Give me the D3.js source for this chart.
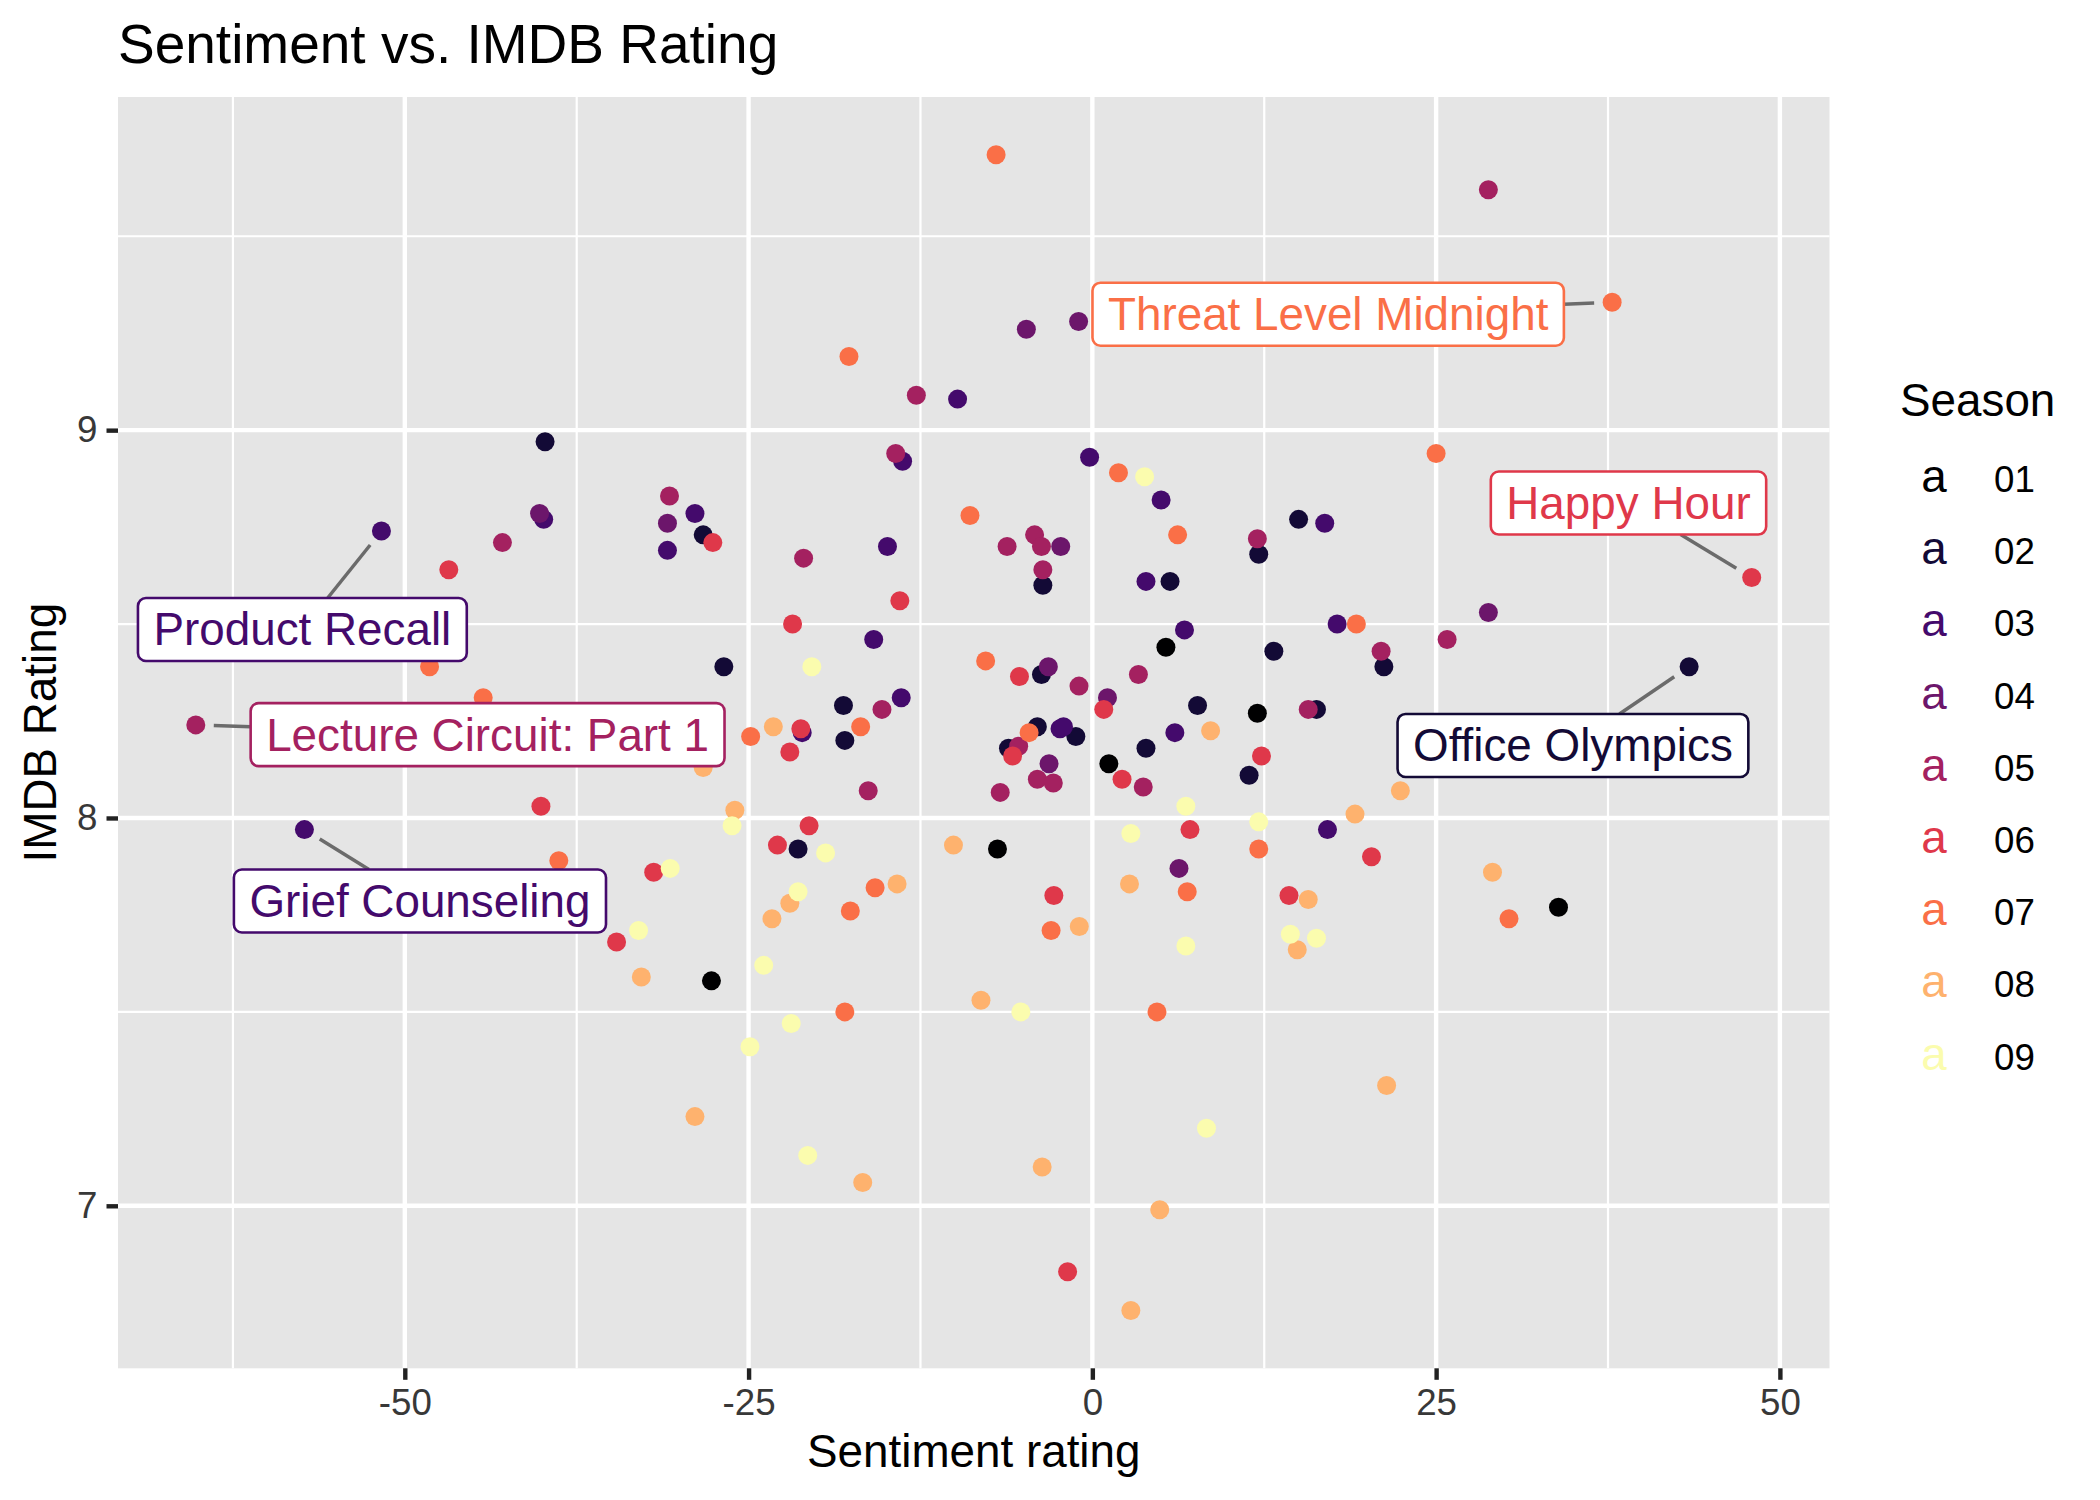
<!DOCTYPE html>
<html>
<head>
<meta charset="utf-8">
<script src="https://cdn.jsdelivr.net/npm/d3@7"></script>
<style>
  body { margin: 0; background: #ffffff; }
  svg { display: block; }
  text { font-family: "Liberation Sans", Arial, Helvetica, sans-serif; }
</style>
</head>
<body>
<svg id="chart" width="2100" height="1500"></svg>
<script>
// ---------------- data (sentiment rating, IMDB rating) per season ----------------
const seasonNames = ["01", "02", "03", "04", "05", "06", "07", "08", "09"];
const seasonColors = ["#000001", "#130A36", "#440A6C", "#6C166B", "#A42160",
                      "#DF384A", "#FA6F47", "#FEB26E", "#FBFCAE"];

const season01 = [[-27.7,7.58],[-6.9,7.92],[1.2,8.14],[5.35,8.44],[12.0,8.27],[33.9,7.77]];
const season02 = [[-39.8,8.97],[-28.3,8.73],[-26.8,8.39],[-21.4,7.92],[-18.1,8.29],[-18.0,8.20],
  [-6.1,8.18],[-4.0,8.235],[-3.6,8.60],[-3.7,8.37],[-1.2,8.21],[3.9,8.18],[5.65,8.61],[7.65,8.29],
  [11.4,8.11],[12.1,8.68],[13.2,8.43],[15.0,8.77],[16.3,8.28],[21.2,8.39],[43.4,8.39]];
const season03 = [[-57.3,7.97],[-51.7,8.74],[-39.9,8.77],[-30.9,8.69],[-28.9,8.785],[-21.1,8.22],
  [-15.9,8.46],[-14.9,8.70],[-13.9,8.31],[-13.8,8.92],[-9.8,9.08],[-2.35,8.23],[-2.1,8.235],
  [-0.2,8.93],[3.9,8.61],[5.0,8.82],[6.0,8.22],[6.7,8.485],[16.9,8.76],[17.1,7.97],[17.8,8.50]];
const season04 = [[-40.2,8.785],[-30.9,8.76],[-4.8,9.26],[-1.0,9.28],[-2.3,8.70],[-3.2,8.39],
  [1.1,8.31],[-3.15,8.14],[6.3,7.87],[28.8,8.53]];
const season05 = [[-65.2,8.24],[-42.9,8.71],[-30.75,8.83],[-21.0,8.67],[-16.3,8.07],[-15.3,8.28],
  [-14.3,8.94],[-12.8,9.09],[-6.7,8.066],[-6.2,8.70],[-5.36,8.185],[-4.2,8.73],[-4.0,8.10],
  [-3.7,8.70],[-3.6,8.64],[-2.84,8.09],[-0.97,8.34],[3.35,8.37],[3.7,8.08],[12.0,8.72],
  [15.7,8.28],[21.0,8.43],[25.8,8.46],[28.8,9.62]];
const season06 = [[-46.8,8.64],[-40.1,8.03],[-34.6,7.68],[-31.9,7.86],[-27.6,8.71],[-22.9,7.93],
  [-22.0,8.17],[-21.8,8.50],[-21.2,8.23],[-20.6,7.98],[-14.0,8.56],[-5.8,8.16],[-5.3,8.365],
  [-2.8,7.80],[-1.8,6.83],[0.83,8.28],[2.16,8.10],[7.1,7.97],[12.3,8.16],[14.3,7.80],
  [20.3,7.90],[47.95,8.62]];
const season07 = [[-48.2,8.39],[-44.3,8.31],[-38.8,7.89],[-24.85,8.21],[-18.0,7.50],[-17.7,9.19],
  [-17.6,7.76],[-16.85,8.235],[-15.8,7.82],[-8.9,8.78],[-7.76,8.405],[-7.0,9.71],[-4.6,8.22],
  [-3.0,7.71],[1.9,8.89],[4.7,7.50],[6.2,8.73],[6.9,7.81],[12.1,7.92],[19.2,8.50],[25.0,8.94],
  [30.3,7.74],[37.8,9.33]];
const season08 = [[-32.8,7.59],[-28.9,7.23],[-28.3,8.13],[-26.0,8.02],[-23.3,7.74],[-23.2,8.235],
  [-22.0,7.78],[-16.7,7.06],[-14.2,7.83],[-10.1,7.93],[-8.1,7.53],[-3.65,7.10],[-0.95,7.72],
  [2.7,7.83],[2.8,6.73],[4.9,6.99],[8.6,8.225],[14.9,7.66],[15.7,7.79],[19.1,8.01],[21.4,7.31],
  [22.4,8.07],[29.1,7.86]];
const season09 = [[-33.0,7.71],[-30.7,7.87],[-26.2,7.98],[-24.9,7.41],[-23.9,7.62],[-21.9,7.47],
  [-21.4,7.81],[-20.7,7.13],[-20.4,8.39],[-19.4,7.91],[-5.2,7.50],[2.8,7.96],[3.8,8.88],
  [6.8,8.03],[6.8,7.67],[8.3,7.20],[12.1,7.99],[14.4,7.70],[16.3,7.69]];
const seasonData = [season01, season02, season03, season04, season05, season06, season07, season08, season09];

// labelled episodes: title, season index, episode point, label centre (data units)
const labelTitles  = ["Threat Level Midnight", "Happy Hour", "Office Olympics",
                      "Product Recall", "Lecture Circuit: Part 1", "Grief Counseling"];
const labelSeason  = [6, 5, 1, 2, 4, 2];
const labelPoint   = [[37.8,9.33],[47.95,8.62],[43.4,8.39],[-51.7,8.74],[-65.2,8.24],[-57.3,7.97]];
const labelCentre  = [[17.15,9.299],[38.99,8.812],[34.95,8.187],[-57.45,8.486],[-43.98,8.215],[-48.9,7.786]];

const xTicks = [-50, -25, 0, 25, 50];
const xMinor = [-62.5, -37.5, -12.5, 12.5, 37.5];
const yTicks = [7, 8, 9];
const yMinor = [6.5, 7.5, 8.5, 9.5];

// ---------------- layout ----------------
const svg = d3.select("#chart");
const panel = {left: 118, right: 1829.5, top: 97, bottom: 1368.3};
const allPts = seasonData.flat();
const xExt = d3.extent(allPts, d => d[0]);
const yExt = d3.extent(allPts, d => d[1]);
const xPad = (xExt[1] - xExt[0]) * 0.05, yPad = (yExt[1] - yExt[0]) * 0.05;
const x = d3.scaleLinear().domain([xExt[0] - xPad, xExt[1] + xPad]).range([panel.left, panel.right]);
const y = d3.scaleLinear().domain([yExt[0] - yPad, yExt[1] + yPad]).range([panel.bottom, panel.top]);

const major = 4.4, minor = 2.2;

// panel background
svg.append("rect").attr("x", panel.left).attr("y", panel.top)
  .attr("width", panel.right - panel.left).attr("height", panel.bottom - panel.top)
  .attr("fill", "#E5E5E5");

const grid = svg.append("g");
const inY = v => v >= y.domain()[0] && v <= y.domain()[1];
const inX = v => v >= x.domain()[0] && v <= x.domain()[1];
grid.selectAll(".ymin").data(yMinor.filter(inY)).join("line")
  .attr("x1", panel.left).attr("x2", panel.right).attr("y1", d => y(d)).attr("y2", d => y(d))
  .attr("stroke", "#fff").attr("stroke-width", minor);
grid.selectAll(".xmin").data(xMinor.filter(inX)).join("line")
  .attr("y1", panel.top).attr("y2", panel.bottom).attr("x1", d => x(d)).attr("x2", d => x(d))
  .attr("stroke", "#fff").attr("stroke-width", minor);
grid.selectAll(".ymaj").data(yTicks).join("line")
  .attr("x1", panel.left).attr("x2", panel.right).attr("y1", d => y(d)).attr("y2", d => y(d))
  .attr("stroke", "#fff").attr("stroke-width", major);
grid.selectAll(".xmaj").data(xTicks).join("line")
  .attr("y1", panel.top).attr("y2", panel.bottom).attr("x1", d => x(d)).attr("x2", d => x(d))
  .attr("stroke", "#fff").attr("stroke-width", major);

// points (drawn in season order)
const pts = svg.append("g");
seasonData.forEach((arr, i) => {
  pts.selectAll(null).data(arr).join("circle")
    .attr("cx", d => x(d[0])).attr("cy", d => y(d[1])).attr("r", 9.5)
    .attr("fill", seasonColors[i]);
});

// labels with segments
const fontLab = 45.8;
const lab = svg.append("g");
labelTitles.forEach((t, i) => {
  const col = seasonColors[labelSeason[i]];
  const cx = x(labelCentre[i][0]), cy = y(labelCentre[i][1]);
  const px = x(labelPoint[i][0]), py = y(labelPoint[i][1]);
  const g = lab.append("g");
  const seg = g.append("line");
  const rect = g.append("rect");
  const txt = g.append("text").text(t).attr("font-size", fontLab).attr("fill", col)
    .attr("text-anchor", "middle").attr("x", cx).attr("y", cy + 16);
  const tw = txt.node().getComputedTextLength();
  const hw = tw / 2 + 15.5, hh = 31.5;
  rect.attr("x", cx - hw).attr("y", cy - hh).attr("width", 2 * hw).attr("height", 2 * hh)
    .attr("rx", 8).attr("ry", 8).attr("fill", "#fff").attr("stroke", col).attr("stroke-width", 2.6);
  const dx = px - cx, dy = py - cy, len = Math.hypot(dx, dy);
  const te = Math.min(hw / Math.abs(dx || 1e-9), hh / Math.abs(dy || 1e-9));
  const sx = cx + te * dx, sy = cy + te * dy;
  const ex = px - 18 * dx / len, ey = py - 18 * dy / len;
  if (te < 1 && Math.hypot(ex - cx, ey - cy) > Math.hypot(sx - cx, sy - cy)) {
    seg.attr("x1", sx).attr("y1", sy).attr("x2", ex).attr("y2", ey)
      .attr("stroke", "#6B6B6B").attr("stroke-width", 3.5);
  }
});

// axes
const xAxis = svg.append("g").attr("transform", `translate(0,${panel.bottom})`)
  .call(d3.axisBottom(x).tickValues(xTicks).tickSize(11.5).tickPadding(9.2).tickFormat(d3.format("d")));
const yAxis = svg.append("g").attr("transform", `translate(${panel.left},0)`)
  .call(d3.axisLeft(y).tickValues(yTicks).tickSize(11.5).tickPadding(9.2).tickFormat(d3.format("d")));
[xAxis, yAxis].forEach(a => {
  a.select(".domain").remove();
  a.selectAll(".tick line").attr("stroke", "#222222").attr("stroke-width", major);
  a.selectAll(".tick text").attr("fill", "#383838").attr("font-size", 36.7)
    .attr("font-family", "Liberation Sans, Arial, sans-serif");
});
xAxis.selectAll(".tick text").text(d => d < 0 ? "-" + Math.abs(d) : d);

// titles
svg.append("text").attr("x", panel.left).attr("y", 63).attr("font-size", 55)
  .attr("fill", "#000").text("Sentiment vs. IMDB Rating");
svg.append("text").attr("x", (panel.left + panel.right) / 2).attr("y", 1467)
  .attr("text-anchor", "middle").attr("font-size", 45.8).attr("fill", "#000").text("Sentiment rating");
svg.append("text").attr("transform", `translate(56,${(panel.top + panel.bottom) / 2}) rotate(-90)`)
  .attr("text-anchor", "middle").attr("font-size", 45.8).attr("fill", "#000").text("IMDB Rating");

// legend
const leg = svg.append("g");
leg.append("text").attr("x", 1900).attr("y", 416).attr("font-size", 45.8).attr("fill", "#000").text("Season");
seasonNames.forEach((s, i) => {
  const cy = 479 + i * 72.2;
  leg.append("text").attr("x", 1934).attr("y", cy + 13).attr("text-anchor", "middle")
    .attr("font-size", 45.8).attr("fill", seasonColors[i]).text("a");
  leg.append("text").attr("x", 1994).attr("y", cy + 13).attr("font-size", 36.7)
    .attr("fill", "#000").text(s);
});
</script>
</body>
</html>
